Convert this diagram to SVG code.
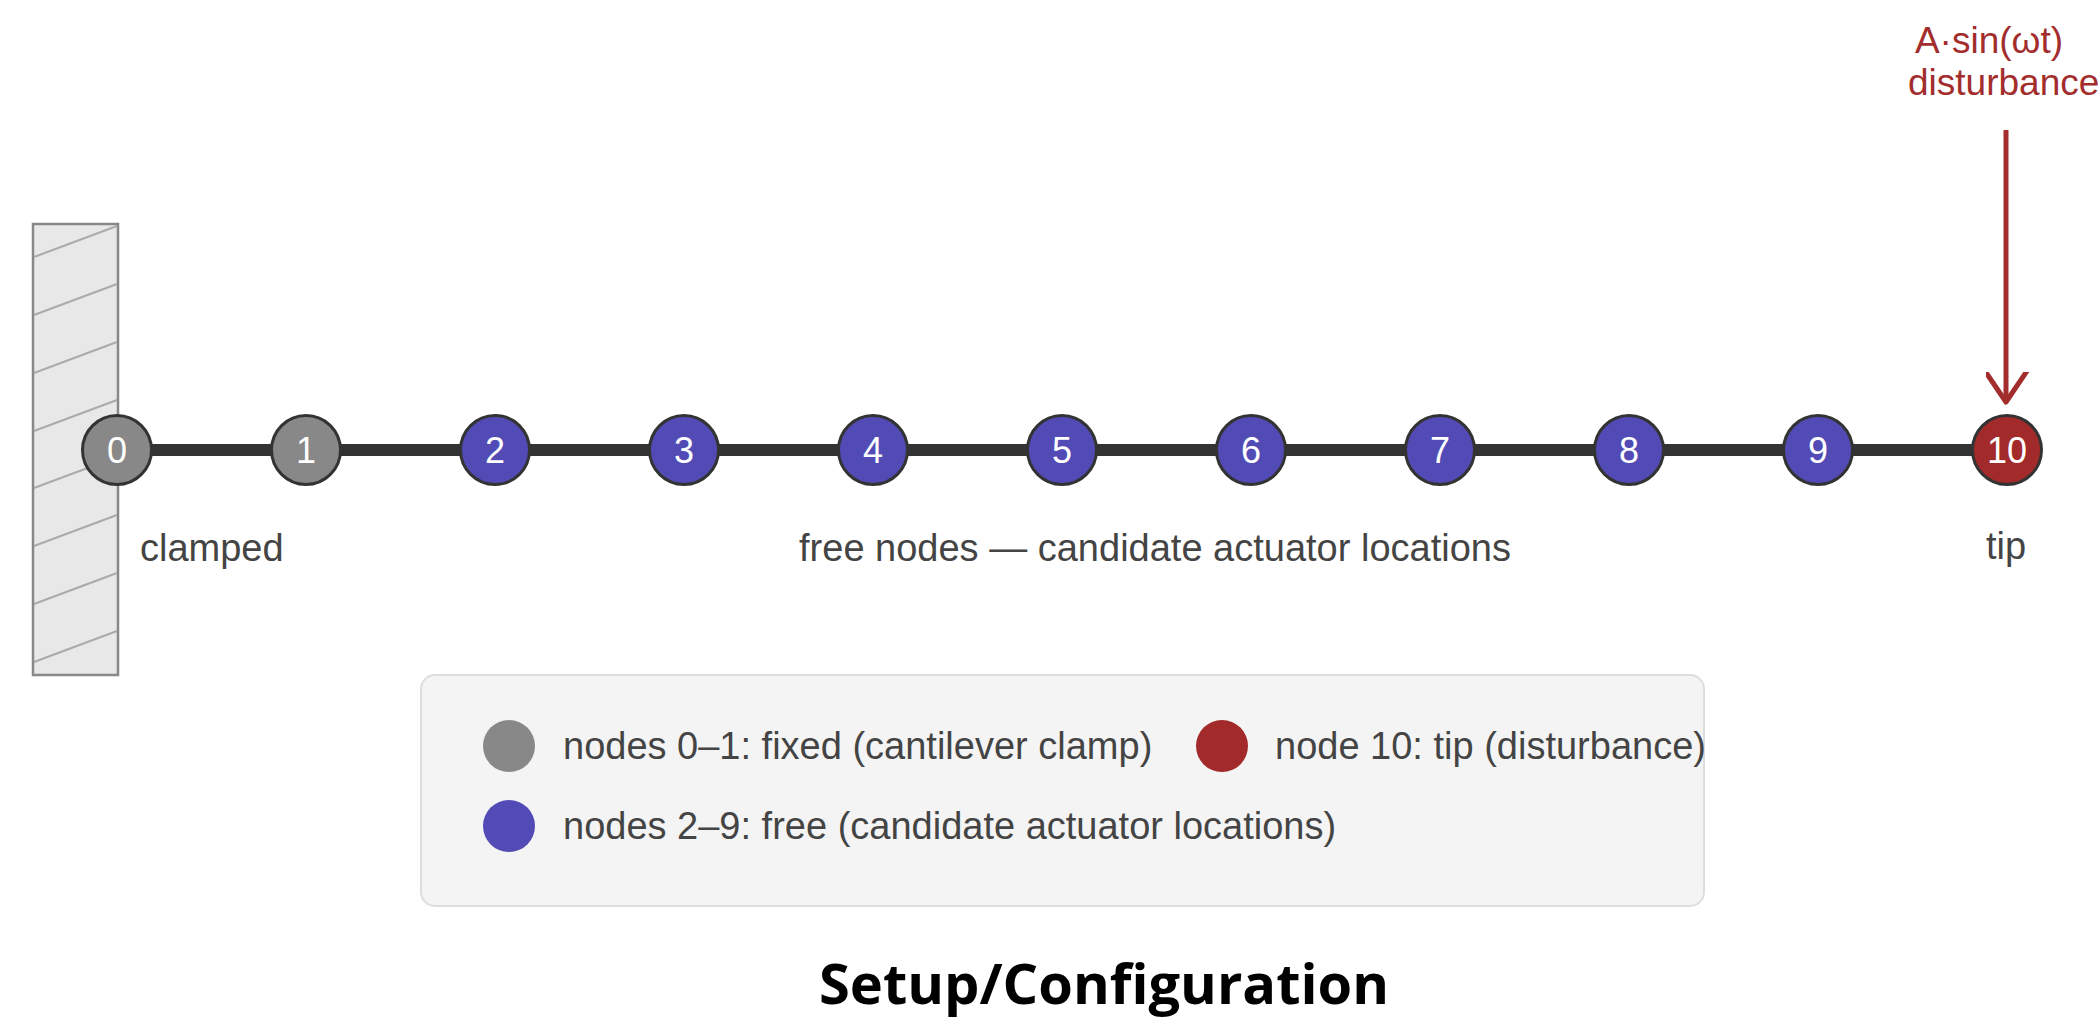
<svg xmlns="http://www.w3.org/2000/svg" width="2098" height="1020" viewBox="0 0 2098 1020">
  <style>
    .lbl { font-family: "Liberation Sans", Arial, sans-serif; font-size: 38px; fill: #444; }
    .num { font-family: "Liberation Sans", Arial, sans-serif; font-size: 36px; fill: #fff; text-anchor: middle; }
    .dist { font-family: "Liberation Sans", Arial, sans-serif; font-size: 37px; fill: #a32d2d; }
    .node { stroke: #333; stroke-width: 3; }
    .fixed { fill: #888888; }
    .free { fill: #524bb6; }
    .tip { fill: #a32a2a; }
    .hatch { stroke: #aaa; stroke-width: 2; }
    .title { font-family: "Open Sans", "Noto Sans", sans-serif; font-weight: bold; font-size: 56px; fill: #000; text-anchor: middle; }
  </style>
  <defs>
    <marker id="chev" markerUnits="userSpaceOnUse" markerWidth="60" markerHeight="60" refX="30" refY="40" orient="auto" viewBox="0 0 60 60">
      <path d="M7 6 L30 40 L53 6" fill="none" stroke="#a32d2d" stroke-width="5" stroke-linecap="round" stroke-linejoin="round" transform="rotate(-90 30 40)"/>
    </marker>
  </defs>

  <rect width="2098" height="1020" fill="#fff"/>

  <!-- clamped wall with hatching -->
  <g id="wall">
    <rect x="33" y="224" width="85" height="451" fill="#e8e8e8" stroke="#888" stroke-width="2.5"/>
    <line class="hatch" x1="34" y1="257" x2="117" y2="226"/>
    <line class="hatch" x1="34" y1="315" x2="117" y2="284"/>
    <line class="hatch" x1="34" y1="373" x2="117" y2="342"/>
    <line class="hatch" x1="34" y1="431" x2="117" y2="400"/>
    <line class="hatch" x1="34" y1="488" x2="117" y2="457"/>
    <line class="hatch" x1="34" y1="546" x2="117" y2="515"/>
    <line class="hatch" x1="34" y1="604" x2="117" y2="573"/>
    <line class="hatch" x1="34" y1="662" x2="117" y2="631"/>
  </g>

  <!-- beam and disturbance arrow -->
  <g id="connectors">
    <line x1="117" y1="450" x2="2007" y2="450" stroke="#333" stroke-width="12"/>
    <line x1="2006" y1="130" x2="2006" y2="402" stroke="#a32d2d" stroke-width="5" marker-end="url(#chev)"/>
  </g>

  <!-- beam nodes -->
  <g id="node0"><circle class="node fixed" cx="117" cy="450" r="34.5"/><text class="num" x="117" y="463">0</text></g>
  <g id="node1"><circle class="node fixed" cx="306" cy="450" r="34.5"/><text class="num" x="306" y="463">1</text></g>
  <g id="node2"><circle class="node free" cx="495" cy="450" r="34.5"/><text class="num" x="495" y="463">2</text></g>
  <g id="node3"><circle class="node free" cx="684" cy="450" r="34.5"/><text class="num" x="684" y="463">3</text></g>
  <g id="node4"><circle class="node free" cx="873" cy="450" r="34.5"/><text class="num" x="873" y="463">4</text></g>
  <g id="node5"><circle class="node free" cx="1062" cy="450" r="34.5"/><text class="num" x="1062" y="463">5</text></g>
  <g id="node6"><circle class="node free" cx="1251" cy="450" r="34.5"/><text class="num" x="1251" y="463">6</text></g>
  <g id="node7"><circle class="node free" cx="1440" cy="450" r="34.5"/><text class="num" x="1440" y="463">7</text></g>
  <g id="node8"><circle class="node free" cx="1629" cy="450" r="34.5"/><text class="num" x="1629" y="463">8</text></g>
  <g id="node9"><circle class="node free" cx="1818" cy="450" r="34.5"/><text class="num" x="1818" y="463">9</text></g>
  <g id="node10"><circle class="node tip" cx="2007" cy="450" r="34.5"/><text class="num" x="2007" y="463">10</text></g>

  <!-- region labels -->
  <g id="labels">
    <text class="lbl" x="140" y="561" font-size="39">clamped</text>
    <text class="lbl" x="1155" y="561" font-size="39" text-anchor="middle">free nodes — candidate actuator locations</text>
    <text class="lbl" x="2006" y="559" font-size="39" text-anchor="middle">tip</text>
  </g>

  <!-- disturbance label -->
  <g id="disturbance">
    <text class="dist" x="1989" y="53" text-anchor="middle">A·sin(ωt)</text>
    <text class="dist" x="1908" y="95">disturbance</text>
  </g>

  <!-- legend -->
  <g id="legend">
    <rect x="421" y="675" width="1283" height="231" rx="14" fill="#f4f4f4" stroke="#ddd" stroke-width="2"/>
    <circle cx="509" cy="746" r="26" class="fixed"/>
    <text class="lbl" x="563" y="759">nodes 0–1: fixed (cantilever clamp)</text>
    <circle cx="1222" cy="746" r="26" class="tip"/>
    <text class="lbl" x="1275" y="759">node 10: tip (disturbance)</text>
    <circle cx="509" cy="826" r="26" class="free"/>
    <text class="lbl" x="563" y="839">nodes 2–9: free (candidate actuator locations)</text>
  </g>

  <text class="title" x="1104" y="1004">Setup/Configuration</text>
</svg>
